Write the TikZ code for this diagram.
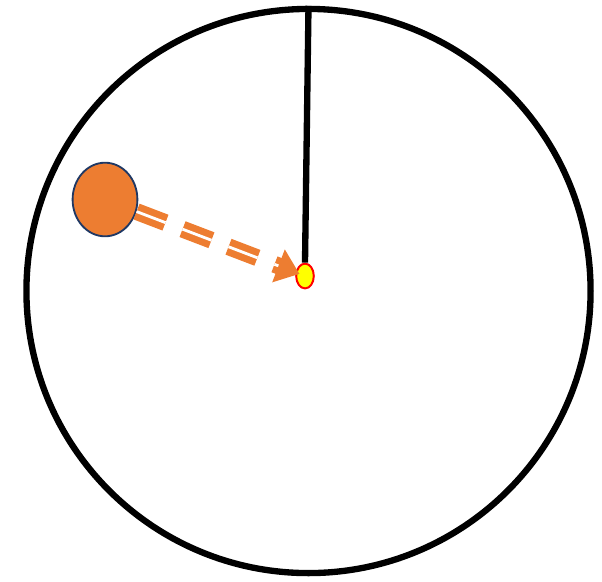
\documentclass[tikz,border=0pt]{standalone}
\usepackage{tikz}
\usetikzlibrary{arrows.meta,shapes.geometric}
\definecolor{ballOrange}{RGB}{237,125,49}
\definecolor{ballNavy}{RGB}{31,56,100}
\definecolor{bobYellow}{RGB}{255,255,0}
\definecolor{bobRed}{RGB}{255,0,0}

\begin{document}
\begin{tikzpicture}[x=0.025cm, y=-0.025cm]
    \useasboundingbox (0,0) rectangle (602,581);
    \node[draw=black, circle, line width=4.5pt, minimum size=14.1cm, inner sep=0pt] (rim) at (308.5,291) {};
    \node[draw=bobRed, fill=bobYellow, ellipse, line width=1.4pt, minimum width=0.44cm, minimum height=0.62cm, inner sep=0pt] (bob) at (305,276) {};
    \node[draw=ballNavy, fill=ballOrange, ellipse, line width=1.3pt, minimum width=1.62cm, minimum height=1.84cm, inner sep=0pt] (ball) at (105,199.5) {};

    \draw[line width=4.5pt, color=black] (rim.north) -- (bob.north);
    \draw[double=white, draw=ballOrange, line width=5pt, double distance=2pt, dash pattern=on 22pt off 13pt, shorten >=-3pt, -{Triangle[length=16pt, width=24pt]}] (ball) -- (bob);
\end{tikzpicture}
\end{document}
